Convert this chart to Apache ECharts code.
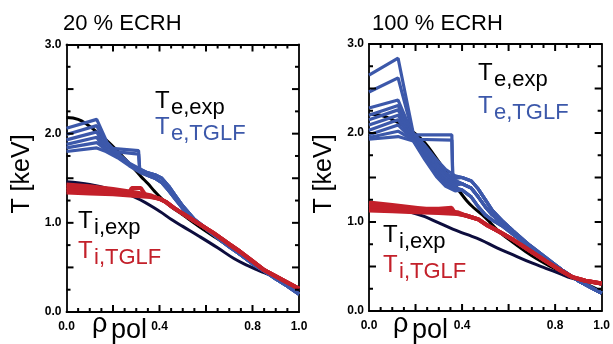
<!DOCTYPE html>
<html><head><meta charset="utf-8">
<script src="https://cdn.jsdelivr.net/npm/echarts@6/dist/echarts.min.js"></script>
<style>html,body{margin:0;padding:0;background:#fff}#c{width:613px;height:344px}</style>
</head><body><div id="c"></div>
<script>
// ---------- ticks and tick labels ----------
var xTickLabels = {'0': '0.0', '0.4': '0.4', '0.8': '0.8', '1': '1.0'};
var yTickLabels = {'0': '0.0', '1': '1.0', '2': '2.0', '3': '3.0'};
var xMajorTicks = [0.2, 0.4, 0.6, 0.8];
var xMinorTicks = [0.05, 0.1, 0.15, 0.25, 0.3, 0.35, 0.45, 0.5, 0.55, 0.65, 0.7, 0.75, 0.85, 0.9, 0.95];
var yMajorTicks = [0.5, 1.0, 1.5, 2.0, 2.5];
var yMinorTicks = [0.25, 0.75, 1.25, 1.75, 2.25, 2.75];
var panelTitles = ['20 % ECRH', '100 % ECRH'];

// ---------- 20 % ECRH ----------
var teExp20 = [[0,2.18],[0.05,2.16],[0.09,2.10],[0.13,2.02],[0.17,1.93],[0.21,1.83],[0.25,1.72],[0.29,1.61],[0.32,1.52],[0.35,1.44],[0.38,1.35],[0.41,1.27],[0.45,1.18],[0.5,1.09],[0.57,0.96],[0.65,0.82],[0.75,0.64],[0.85,0.46],[0.92,0.35],[1.0,0.22]];
var tiExp20 = [[0,1.46],[0.1,1.43],[0.2,1.37],[0.3,1.28],[0.4,1.13],[0.45,1.04],[0.5,0.96],[0.57,0.85],[0.65,0.72],[0.72,0.60],[0.78,0.52],[0.84,0.45],[0.9,0.39],[0.95,0.32],[1.0,0.24]];
var teTglf20Heads = [
  [[0,2.06],[0.13,2.16],[0.175,1.90],[0.22,1.78],[0.27,1.67],[0.32,1.60]],
  [[0,1.99],[0.13,2.09],[0.175,1.87],[0.22,1.76],[0.27,1.66],[0.32,1.59]],
  [[0,1.93],[0.13,2.02],[0.17,1.84],[0.31,1.81],[0.315,1.60]],
  [[0,1.88],[0.13,1.96],[0.17,1.81],[0.31,1.77],[0.315,1.58]],
  [[0,1.84],[0.13,1.90],[0.17,1.82],[0.22,1.74],[0.27,1.65],[0.32,1.57]],
  [[0,1.80],[0.13,1.84],[0.17,1.80],[0.22,1.73],[0.27,1.64],[0.32,1.56]]
];
var teTglf20TailUpper = [[0.35,1.56],[0.38,1.54],[0.41,1.50],[0.44,1.41],[0.47,1.30],[0.5,1.19],[0.55,1.04],[0.6,0.94],[0.65,0.84],[0.7,0.74],[0.75,0.64],[0.8,0.54],[0.85,0.46],[0.9,0.37],[0.95,0.29],[1.0,0.20]];
var teTglf20TailLower = [[0.35,1.53],[0.38,1.50],[0.41,1.45],[0.44,1.36],[0.47,1.26],[0.5,1.16],[0.55,1.03],[0.6,0.93],[0.65,0.83],[0.7,0.73],[0.75,0.64],[0.8,0.54],[0.85,0.46],[0.9,0.37],[0.95,0.29],[1.0,0.20]];
var teTglf20TailOf = ['U','U','U','L','L','L'];
var tiTglf20Heads = [
  [[0,1.43],[0.1,1.41],[0.2,1.38],[0.3,1.34],[0.36,1.31]],
  [[0,1.40],[0.1,1.38],[0.2,1.36],[0.27,1.34],[0.28,1.39],[0.32,1.39],[0.34,1.31]],
  [[0,1.37],[0.1,1.36],[0.2,1.34],[0.3,1.31],[0.36,1.30]],
  [[0,1.34],[0.1,1.33],[0.2,1.32],[0.3,1.30],[0.36,1.29]]
];
var tiTglf20Tail = [[0.40,1.27],[0.43,1.23],[0.46,1.17],[0.49,1.12],[0.55,1.02],[0.63,0.89],[0.7,0.76],[0.75,0.67],[0.8,0.57],[0.85,0.47],[0.9,0.40],[0.95,0.33],[1.0,0.26]];

// ---------- 100 % ECRH ----------
var teExp100 = [[0,2.21],[0.05,2.20],[0.10,2.15],[0.15,2.08],[0.20,1.99],[0.24,1.89],[0.28,1.75],[0.32,1.60],[0.35,1.48],[0.39,1.34],[0.42,1.24],[0.45,1.16],[0.5,1.05],[0.56,0.89],[0.63,0.75],[0.7,0.62],[0.78,0.50],[0.85,0.41],[0.92,0.32],[1.0,0.22]];
var tiExp100 = [[0,1.18],[0.1,1.15],[0.18,1.11],[0.24,1.06],[0.3,0.99],[0.36,0.92],[0.42,0.86],[0.48,0.80],[0.55,0.71],[0.62,0.63],[0.7,0.54],[0.76,0.48],[0.82,0.42],[0.87,0.37],[0.93,0.34],[1.0,0.30]];
var teTglf100Heads = [
  [[0,2.65],[0.125,2.84],[0.19,2.00],[0.24,1.86],[0.29,1.70],[0.33,1.59],[0.37,1.52]],
  [[0,2.46],[0.125,2.62],[0.19,1.98],[0.356,1.98],[0.36,1.52]],
  [[0,2.28],[0.125,2.37],[0.19,1.97],[0.24,1.82],[0.29,1.66],[0.33,1.55],[0.37,1.49]],
  [[0,2.20],[0.125,2.31],[0.19,1.95],[0.24,1.80],[0.29,1.63],[0.33,1.52],[0.37,1.46]],
  [[0,2.15],[0.125,2.26],[0.19,1.93],[0.356,1.92],[0.36,1.48]],
  [[0,2.09],[0.125,2.20],[0.19,1.94],[0.24,1.78],[0.29,1.60],[0.33,1.49],[0.37,1.43]],
  [[0,2.03],[0.125,2.15],[0.19,1.93],[0.24,1.76],[0.29,1.57],[0.33,1.46],[0.37,1.41]],
  [[0,1.98],[0.125,2.09],[0.19,1.92],[0.24,1.74],[0.29,1.55],[0.33,1.44],[0.37,1.39]],
  [[0,1.95],[0.125,2.02],[0.19,1.92],[0.24,1.72],[0.29,1.53],[0.33,1.42],[0.37,1.37]],
  [[0,1.93],[0.125,1.96],[0.19,1.91],[0.24,1.70],[0.29,1.51],[0.33,1.40],[0.37,1.35]]
];
var teTglf100TailUpper = [[0.40,1.50],[0.44,1.46],[0.47,1.37],[0.50,1.25],[0.53,1.13],[0.57,1.02],[0.62,0.90],[0.69,0.74],[0.76,0.60],[0.83,0.46],[0.9,0.34],[0.95,0.27],[1.0,0.20]];
var teTglf100TailMid   = [[0.40,1.43],[0.44,1.38],[0.47,1.28],[0.50,1.17],[0.53,1.08],[0.57,0.99],[0.62,0.88],[0.69,0.73],[0.76,0.59],[0.83,0.46],[0.9,0.34],[0.95,0.27],[1.0,0.20]];
var teTglf100TailLower = [[0.40,1.36],[0.44,1.28],[0.47,1.17],[0.50,1.08],[0.53,1.02],[0.57,0.96],[0.62,0.86],[0.69,0.72],[0.76,0.58],[0.83,0.45],[0.9,0.34],[0.95,0.27],[1.0,0.20]];
var teTglf100TailOf = ['U','U','U','M','M','M','M','L','L','L'];
var tiTglf100Heads = [
  [[0,1.22],[0.1,1.19],[0.2,1.16],[0.3,1.13],[0.38,1.11]],
  [[0,1.19],[0.1,1.17],[0.2,1.15],[0.3,1.15],[0.355,1.16],[0.37,1.10]],
  [[0,1.16],[0.1,1.15],[0.2,1.13],[0.3,1.12],[0.38,1.10]],
  [[0,1.13],[0.1,1.12],[0.2,1.11],[0.3,1.10],[0.38,1.09]]
];
var tiTglf100Tail = [[0.42,1.07],[0.47,1.03],[0.51,0.96],[0.56,0.89],[0.62,0.80],[0.69,0.68],[0.76,0.56],[0.82,0.46],[0.875,0.38],[0.93,0.34],[1.0,0.31]];

// ---------- styling ----------
var C_BLACK = '#000000', C_NAVY = '#0d0d3d', C_BLUE = '#3c58aa', C_RED = '#c3202a';
var FONT = '"Liberation Sans", Arial, sans-serif';
var X_MIN = 0, X_MAX = 1, Y_MIN = 0, Y_MAX = 3;

var grids = [
  {left: 66.5, top: 44.5, width: 232.5, height: 267.5},
  {left: 369, top: 44, width: 233, height: 267}
];

function fmtKey(v) { return String(Math.round(v * 100) / 100); }

function xAxisFor(g, pos) {
  return {
    type: 'value', gridIndex: g, position: pos, min: X_MIN, max: X_MAX,
    axisLine: {show: true, onZero: false, lineStyle: {color: '#000', width: 1.8}},
    axisTick: {show: false}, minorTick: {show: false},
    splitLine: {show: false},
    axisLabel: {show: pos === 'bottom', margin: 9, color: '#000', fontFamily: FONT, fontSize: 12, fontWeight: 'bold',
      formatter: function (v) { return xTickLabels[fmtKey(v)] || ''; }}
  };
}
function yAxisFor(g, pos) {
  return {
    type: 'value', gridIndex: g, position: pos, min: Y_MIN, max: Y_MAX,
    axisLine: {show: true, onZero: false, lineStyle: {color: '#000', width: 1.8}},
    axisTick: {show: false}, minorTick: {show: false},
    splitLine: {show: false},
    axisLabel: {show: pos === 'left', margin: 5, color: '#000', fontFamily: FONT, fontSize: 12, fontWeight: 'bold',
      formatter: function (v) { return yTickLabels[fmtKey(v)] || ''; }}
  };
}

var series = [];
function addLine(data, color, width, idx, smooth) {
  series.push({type: 'line', xAxisIndex: idx * 2, yAxisIndex: idx * 2, data: data, showSymbol: false,
    smooth: smooth, lineStyle: {color: color, width: width}});
}

// panel 0
addLine(teExp20, C_BLACK, 3, 0, 0.4);
addLine(tiExp20, C_NAVY, 3, 0, 0.4);
var tails20 = {U: teTglf20TailUpper, L: teTglf20TailLower};
teTglf20Heads.forEach(function (h, i) { addLine(h.concat(tails20[teTglf20TailOf[i]]), C_BLUE, 3.2, 0, false); });
tiTglf20Heads.forEach(function (h) { addLine(h.concat(tiTglf20Tail), C_RED, 4, 0, false); });
// panel 1
addLine(teExp100, C_BLACK, 3, 1, 0.4);
addLine(tiExp100, C_NAVY, 3, 1, 0.4);
var tails100 = {U: teTglf100TailUpper, M: teTglf100TailMid, L: teTglf100TailLower};
teTglf100Heads.forEach(function (h, i) { addLine(h.concat(tails100[teTglf100TailOf[i]]), C_BLUE, 3.2, 1, false); });
tiTglf100Heads.forEach(function (h) { addLine(h.concat(tiTglf100Tail), C_RED, 4, 1, false); });

function txt(x, baseline, s, size, color) {
  return {type: 'text', x: x, y: baseline - 0.35 * size, z: 10, silent: true,
    style: {text: s, font: size + 'px ' + FONT, fill: color, align: 'left', verticalAlign: 'middle'}};
}
function label(x, baseline, main, sub, color) {
  return [txt(x, baseline, main, 24, color), txt(x + 16, baseline + 6, sub, 22, color)];
}
var graphics = [];
graphics.push(txt(63, 32, panelTitles[0], 22, '#000'));
graphics.push(txt(372, 32, panelTitles[1], 22, '#000'));
[22, 324].forEach(function (x) {
  graphics.push({type: 'text', x: x, y: 174, rotation: Math.PI / 2, z: 10, silent: true,
    style: {text: 'T [keV]', font: '25px ' + FONT, fill: '#000', align: 'center', verticalAlign: 'middle'}});
});
[92, 393].forEach(function (x) {
  graphics.push(txt(x, 334, 'ρ', 27, '#000'));
  graphics.push(txt(x + 19, 340, 'pol', 27, '#000'));
});
graphics = graphics
  .concat(label(155, 110, 'T', 'e,exp', C_BLACK))
  .concat(label(155, 136, 'T', 'e,TGLF', C_BLUE))
  .concat(label(78, 230, 'T', 'i,exp', C_BLACK))
  .concat(label(78, 260, 'T', 'i,TGLF', C_RED))
  .concat(label(478, 82, 'T', 'e,exp', C_BLACK))
  .concat(label(478, 115, 'T', 'e,TGLF', C_BLUE))
  .concat(label(383, 244, 'T', 'i,exp', C_BLACK))
  .concat(label(383, 274, 'T', 'i,TGLF', C_RED));

var chart = echarts.init(document.getElementById('c'));
chart.setOption({
  animation: false,
  backgroundColor: '#fff',
  grid: grids,
  xAxis: [xAxisFor(0, 'bottom'), xAxisFor(0, 'top'), xAxisFor(1, 'bottom'), xAxisFor(1, 'top')],
  yAxis: [yAxisFor(0, 'left'), yAxisFor(0, 'right'), yAxisFor(1, 'left'), yAxisFor(1, 'right')],
  series: series
});

// inward tick marks on all four sides, placed through the chart's own axis scales
var tickLines = [];
function pushTicks(values, isX, len, g) {
  values.forEach(function (v) {
    var a, b;
    if (isX) {
      a = chart.convertToPixel({gridIndex: g}, [v, Y_MIN]);
      b = chart.convertToPixel({gridIndex: g}, [v, Y_MAX]);
      tickLines.push({type: 'line', z: 20, silent: true, shape: {x1: a[0], y1: a[1], x2: a[0], y2: a[1] - len}, style: {stroke: '#000', lineWidth: 2}});
      tickLines.push({type: 'line', z: 20, silent: true, shape: {x1: b[0], y1: b[1], x2: b[0], y2: b[1] + len}, style: {stroke: '#000', lineWidth: 2}});
    } else {
      a = chart.convertToPixel({gridIndex: g}, [X_MIN, v]);
      b = chart.convertToPixel({gridIndex: g}, [X_MAX, v]);
      tickLines.push({type: 'line', z: 20, silent: true, shape: {x1: a[0], y1: a[1], x2: a[0] + len, y2: a[1]}, style: {stroke: '#000', lineWidth: 2}});
      tickLines.push({type: 'line', z: 20, silent: true, shape: {x1: b[0], y1: b[1], x2: b[0] - len, y2: b[1]}, style: {stroke: '#000', lineWidth: 2}});
    }
  });
}
[0, 1].forEach(function (g) {
  pushTicks(xMajorTicks, true, 7, g);
  pushTicks(xMinorTicks, true, 4, g);
  pushTicks(yMajorTicks, false, 7, g);
  pushTicks(yMinorTicks, false, 4, g);
});
chart.setOption({graphic: graphics.concat(tickLines)});
</script></body></html>
